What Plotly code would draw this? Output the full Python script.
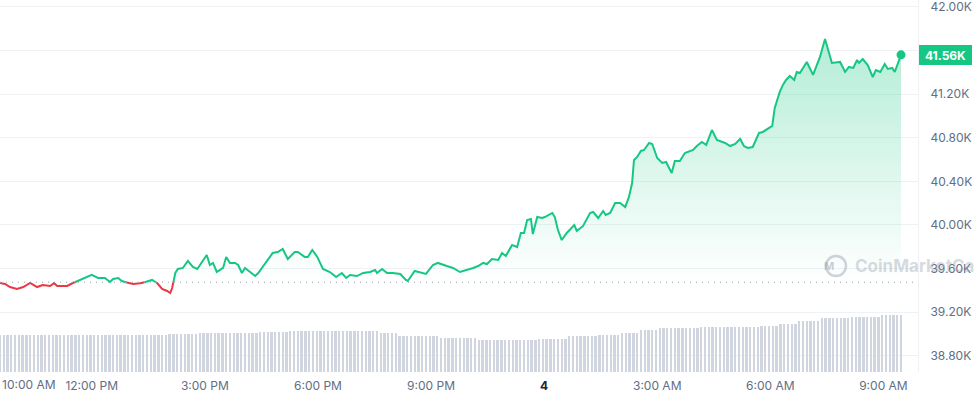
import plotly.graph_objects as go
import pandas as pd

# ---------------- data ----------------
START = "2023-12-03 09:34"
END = "2023-12-04 09:55"

minutes_from_start = [
    0, 8, 16, 27, 37, 48, 59, 68, 80, 86,
    91, 107, 116, 124, 135, 146, 156, 167, 175, 180,
    188, 194, 204, 212, 223, 234, 242, 250, 258, 266,
    271, 274, 279, 283, 291, 299, 307, 314, 321, 329,
    334, 339, 345, 355, 360, 366, 374, 379, 385, 390,
    398, 406, 411, 425, 434, 442, 450, 458, 469, 474,
    485, 490, 497, 505, 514, 525, 535, 544, 551, 557,
    568, 578, 589, 597, 600, 608, 616, 625, 637, 646,
    649, 660, 668, 678, 689, 697, 711, 721, 732, 743,
    753, 761, 769, 775, 783, 793, 799, 805, 815, 823,
    829, 834, 839, 845, 848, 855, 863, 867, 879, 883,
    888, 894, 902, 914, 918, 928, 939, 944, 952, 960,
    964, 971, 979, 987, 995, 1001, 1006, 1009, 1014, 1020,
    1025, 1033, 1038, 1046, 1054, 1060, 1069, 1074, 1082, 1090,
    1098, 1103, 1109, 1117, 1124, 1133, 1141, 1149, 1154, 1162,
    1170, 1178, 1184, 1190, 1198, 1208, 1214, 1229, 1233, 1241,
    1246, 1251, 1257, 1264, 1268, 1273, 1284, 1294, 1305, 1313,
    1324, 1337, 1345, 1351, 1358, 1364, 1367, 1373, 1381, 1389,
    1394, 1401, 1408, 1413, 1420, 1424, 1434,
]

prices = [
    39468, 39459, 39431, 39413, 39431, 39468, 39431, 39450, 39441, 39468,
    39441, 39441, 39468, 39486, 39514, 39542, 39514, 39514, 39477, 39505,
    39514, 39486, 39468, 39459, 39465, 39480, 39496, 39468, 39413, 39395,
    39376, 39422, 39560, 39597, 39606, 39670, 39615, 39597, 39661, 39725,
    39633, 39652, 39569, 39606, 39707, 39652, 39652, 39633, 39560, 39606,
    39569, 39532, 39560, 39670, 39743, 39752, 39780, 39688, 39752, 39752,
    39707, 39707, 39771, 39707, 39597, 39569, 39523, 39560, 39514, 39542,
    39532, 39560, 39569, 39587, 39560, 39597, 39560, 39560, 39551, 39496,
    39486, 39578, 39569, 39551, 39633, 39652, 39624, 39606, 39569, 39587,
    39606, 39624, 39652, 39642, 39688, 39679, 39743, 39716, 39817, 39798,
    39927, 39927, 40046, 40055, 39917, 40073, 40064, 40073, 40110, 40073,
    39954, 39862, 39927, 40000, 39945, 39991, 40110, 40119, 40064, 40128,
    40092, 40110, 40202, 40202, 40165, 40257, 40385, 40596, 40624, 40679,
    40688, 40752, 40743, 40614, 40569, 40578, 40477, 40587, 40587, 40660,
    40679, 40688, 40724, 40761, 40734, 40871, 40779, 40761, 40752, 40724,
    40743, 40789, 40724, 40706, 40715, 40844, 40853, 40908, 41073, 41220,
    41284, 41330, 41366, 41330, 41403, 41394, 41495, 41376, 41541, 41706,
    41486, 41495, 41403, 41449, 41440, 41513, 41486, 41522, 41467, 41357,
    41421, 41403, 41476, 41431, 41440, 41403, 41560,
]

open_price = 39475
last_price = 41560
last_price_label = "41.56K"

volume_step_minutes = 6
volume_billions = [
    15.0, 15.0, 15.0, 15.0, 15.0, 15.0, 15.0, 15.0, 15.0, 15.0, 15.0, 15.0, 15.0, 15.0, 15.0,
    15.0, 15.0, 15.0, 15.0, 15.0, 15.0, 15.0, 15.0, 15.0, 15.0, 15.0, 15.0, 15.0, 15.0, 15.0,
    15.0, 15.0, 15.0, 15.0, 15.0, 15.0, 15.0, 15.0, 15.0, 15.0, 15.0, 15.0, 15.0, 15.0, 15.0,
    15.4, 15.4, 15.4, 15.4, 15.4, 15.4, 15.4, 15.4,
    15.8, 15.8, 15.8, 15.8, 15.8, 15.8, 15.8, 15.8, 15.8, 15.8, 15.8, 15.8, 15.8, 15.8, 15.8, 15.8,
    16.2, 16.2, 16.2, 16.2, 16.2, 16.2, 16.2, 16.2,
    16.6, 16.6, 16.6, 16.6, 16.6, 16.6, 16.6, 16.6, 16.6, 16.6, 16.6, 16.6,
    16.6, 16.6, 16.6, 16.6, 16.6, 16.6, 16.6, 16.6, 16.6, 16.6, 16.6, 16.6,
    15.8, 15.8, 15.8, 15.8, 15.8,
    14.6, 14.6, 14.6, 14.6, 14.6, 14.6, 14.6, 14.6, 14.6, 14.6, 14.6,
    13.8, 13.8, 13.8, 13.8, 13.8, 13.8, 13.8, 13.8, 13.8, 13.8,
    13.0, 13.0, 13.0, 13.0, 13.0, 13.0, 13.0, 13.0, 13.0, 13.0, 13.0, 13.0, 13.0, 13.0, 13.0, 13.0,
    13.4, 13.4, 13.4, 13.4, 13.4, 13.4, 13.4, 13.4,
    14.6, 14.6, 14.6, 14.6, 14.6, 14.6, 14.6, 14.6,
    15.0, 15.0, 15.0, 15.0, 15.0, 15.0,
    15.8, 15.8, 15.8, 15.8, 15.8,
    17.0, 17.0, 17.0, 17.0, 17.0,
    17.8, 17.8, 17.8, 17.8, 17.8, 17.8, 17.8, 17.8, 17.8, 17.8, 17.8,
    18.2, 18.2, 18.2, 18.2, 18.2, 18.2, 18.2, 18.2, 18.2, 18.2, 18.2, 18.2, 18.2, 18.2, 18.2, 18.2,
    18.6, 18.6, 18.6, 18.6, 18.6,
    19.4, 19.4, 19.4, 19.4, 19.4,
    20.7, 20.7, 20.7, 20.7, 20.7, 20.7,
    21.9, 21.9, 21.9, 21.9, 21.9, 21.9, 21.9, 21.9,
    22.3, 22.3, 22.3, 22.3, 22.3, 22.3, 22.3, 22.3,
    23.1, 23.1, 23.1, 23.1, 23.1, 23.1,
]

y_tick_vals = [38800, 39200, 39600, 40000, 40400, 40800, 41200, 41600, 42000]
y_tick_text = ["38.80K", "39.20K", "39.60K", "40.00K", "40.40K", "40.80K", "41.20K", "41.60K", "42.00K"]
x_tick_vals = ["2023-12-03 12:00", "2023-12-03 15:00", "2023-12-03 18:00", "2023-12-03 21:00",
               "2023-12-04 00:00", "2023-12-04 03:00", "2023-12-04 06:00", "2023-12-04 09:00"]
x_tick_text = ["12:00 PM", "3:00 PM", "6:00 PM", "9:00 PM",
               "<b><span style='color:#222531'>4</span></b>", "3:00 AM", "6:00 AM", "9:00 AM"]
first_x_label = "10:00 AM"
watermark = "CoinMarketCap"

# ---------------- styles ----------------
GREEN = "#16c784"
RED = "#ea3943"
TICK_COLOR = "#616e85"
GRID = "#eff2f5"
FONT = "Inter"

start_ts = pd.Timestamp(START)
times = [start_ts + pd.Timedelta(minutes=m) for m in minutes_from_start]

# split line into above / below open price
gx, gy, rx, ry = [], [], [], []
for i in range(len(prices)):
    t, p = times[i], prices[i]
    if i > 0:
        t0, p0 = times[i - 1], prices[i - 1]
        if (p0 - open_price) * (p - open_price) < 0:
            f = (open_price - p0) / (p - p0)
            tc = t0 + (t - t0) * f
            gx.append(tc); gy.append(open_price)
            rx.append(tc); ry.append(open_price)
    if p >= open_price:
        gx.append(t); gy.append(p)
        rx.append(t); ry.append(None)
    else:
        rx.append(t); ry.append(p)
        gx.append(t); gy.append(None)

vol_times = [start_ts + pd.Timedelta(minutes=volume_step_minutes * i) for i in range(len(volume_billions))]

fig = go.Figure()

fig.add_trace(go.Bar(
    x=vol_times, y=volume_billions, yaxis="y2",
    marker=dict(color="#d0d5df", line=dict(width=0)),
    width=volume_step_minutes * 60 * 1000 * 0.62,
    hoverinfo="skip",
))

fig.add_trace(go.Scatter(
    x=times, y=prices, mode="lines", line=dict(width=0),
    fill="tozeroy",
    fillgradient=dict(type="vertical", start=open_price, stop=41750,
                      colorscale=[[0, "rgba(22,199,132,0)"], [1, "rgba(22,199,132,0.33)"]]),
    hoverinfo="skip",
))

fig.add_trace(go.Scatter(x=rx, y=ry, mode="lines", line=dict(color=RED, width=2), connectgaps=False))
fig.add_trace(go.Scatter(x=gx, y=gy, mode="lines", line=dict(color=GREEN, width=2), connectgaps=False))

fig.add_trace(go.Scatter(x=[times[-1]], y=[prices[-1]], mode="markers",
                         marker=dict(color=GREEN, size=9)))

# dotted open-price line
fig.add_shape(type="line", xref="paper", x0=0, x1=1, yref="y", y0=open_price, y1=open_price,
              line=dict(color="#9aa1ad", width=1, dash="1px,5px"), layer="above")

# watermark
wm_y = 39624
fig.add_shape(type="circle", xref="paper", xsizemode="pixel", xanchor=836 / 918, x0=-10, x1=10,
              yref="y", ysizemode="pixel", yanchor=wm_y, y0=-10, y1=10,
              line=dict(color="rgba(150,158,172,0.45)", width=2.5))
fig.add_annotation(xref="paper", x=836 / 918, yref="y", y=wm_y, text="<b>M</b>", showarrow=False,
                   font=dict(family=FONT, size=11, color="rgba(150,158,172,0.5)"))
fig.add_annotation(xref="paper", x=853 / 918, xanchor="left", yref="y", y=wm_y, yanchor="middle",
                   text=f"<b>{watermark}</b>", showarrow=False,
                   font=dict(family=FONT, size=17, color="rgba(150,158,172,0.4)"))

# last price badge
fig.add_annotation(xref="paper", x=1, xanchor="left", xshift=1, yref="y", y=last_price,
                   text=f"<b>{last_price_label}</b>", showarrow=False,
                   bgcolor=GREEN, bordercolor=GREEN, borderwidth=1, borderpad=2,
                   width=47, height=14,
                   font=dict(family=FONT, size=12, color="white"))

# first x label (kept inside the canvas)
fig.add_annotation(xref="paper", x=0, xanchor="left", yref="paper", y=0, yanchor="top", yshift=-3,
                   text=first_x_label, showarrow=False,
                   font=dict(family=FONT, size=12, color=TICK_COLOR))

fig.update_layout(
    width=975, height=396,
    margin=dict(l=0, r=57, t=0, b=24),
    plot_bgcolor="white", paper_bgcolor="white",
    showlegend=False,
    bargap=0,
    xaxis=dict(range=[START, END], tickmode="array", tickvals=x_tick_vals, ticktext=x_tick_text,
               showgrid=False, zeroline=False, showline=False, ticks="", ticklabelstandoff=5,
               tickfont=dict(family=FONT, size=12, color=TICK_COLOR)),
    yaxis=dict(side="right", range=[38652, 42063], tickmode="array",
               tickvals=y_tick_vals, ticktext=y_tick_text, ticklabeloverflow="allow",
               showgrid=True, gridcolor=GRID, gridwidth=1, zeroline=False,
               showline=True, linecolor=GRID, ticks="", ticklabelstandoff=9,
               tickfont=dict(family=FONT, size=12, color=TICK_COLOR)),
    yaxis2=dict(overlaying="y", range=[0, 150.7], visible=False),
)

fig.write_html("out.html", config={"displayModeBar": False},
               post_script="document.body.style.margin='0';document.body.style.overflow='hidden';")
